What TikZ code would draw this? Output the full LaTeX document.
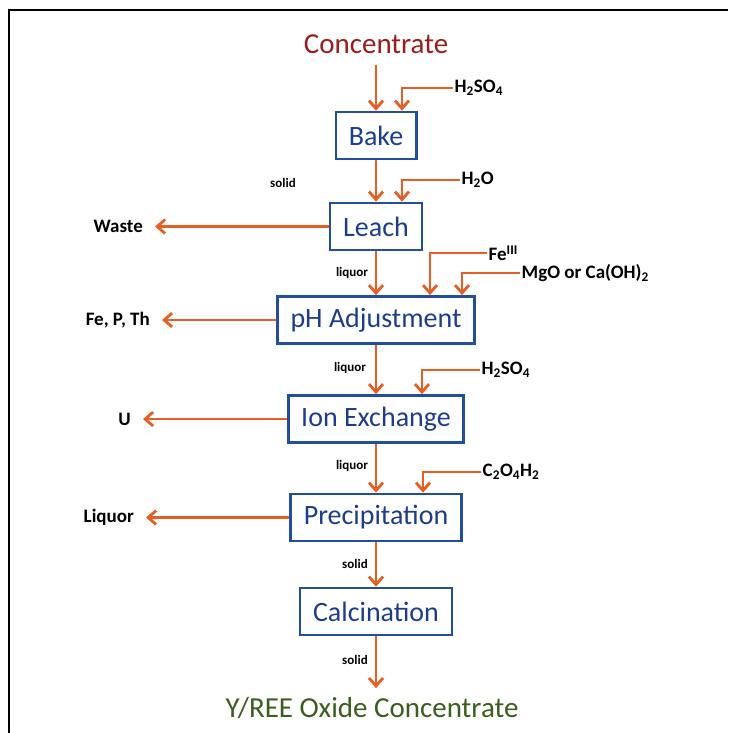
\documentclass[tikz,border=0pt]{standalone}
\usepackage{fontspec}
\setmainfont{Carlito}
\usetikzlibrary{arrows.meta}
\definecolor{flowor}{RGB}{232,94,34}
\definecolor{boxblue}{RGB}{34,78,160}
\definecolor{unittext}{RGB}{30,60,140}
\definecolor{feedred}{RGB}{155,28,28}
\definecolor{prodgreen}{RGB}{58,94,30}
\tikzset{
  flow/.style={draw=flowor, line width=2.8pt, -{Straight Barb[length=8pt,width=14pt]}},
  unit/.style={draw=boxblue, line width=2.6pt, text=unittext, inner xsep=13pt, minimum height=47pt, font=\fontsize{28}{30}\selectfont},
  feed/.style={anchor=west, inner sep=1.5pt, font=\bfseries\fontsize{19}{20}\selectfont},
  outlbl/.style={anchor=east, inner xsep=12pt, inner ysep=0pt, font=\bfseries\fontsize{19}{20}\selectfont},
  stream/.style={font=\bfseries\fontsize{13}{14}\selectfont},
}
\begin{document}
\begin{tikzpicture}[x=1pt,y=-1pt]
\useasboundingbox (0,0) rectangle (728,733);
\draw [line width=2pt] (9,733) -- (9,10) -- (728,10);

% main units
\node (conc) at (376,44) [text=feedred, inner ysep=11pt, font=\fontsize{29}{31}\selectfont] {Concentrate};
\node (bake) at (376,135.5) [unit] {Bake};
\node (leach) at (376,226.5) [unit] {Leach};
\node (phadj) at (376,320) [unit] {pH Adjustment};
\node (ionex) at (376,419) [unit] {Ion Exchange};
\node (precip) at (376,517.5) [unit] {Precipitation};
\node (calc) at (376,611.5) [unit] {Calcination};
\node (prod) at (372,708) [text=prodgreen, inner ysep=9pt, font=\fontsize{29}{31}\selectfont] {Y/REE Oxide Concentrate};

% reagents
\node (acidA) at (453,88) [feed] {H\textsubscript{2}SO\textsubscript{4}};
\node (water) at (460,180) [feed] {H\textsubscript{2}O};
\node (ferric) at (487,253) [feed] {Fe\textsuperscript{III}};
\node (base) at (520,273) [feed] {MgO or Ca(OH)\textsubscript{2}};
\node (acidB) at (480,370) [feed] {H\textsubscript{2}SO\textsubscript{4}};
\node (oxal) at (481,472) [feed] {C\textsubscript{2}O\textsubscript{4}H\textsubscript{2}};

% outputs
\node (waste) at (155,226.5) [outlbl] {Waste};
\node (fepth) at (162,320) [outlbl] {Fe, P, Th};
\node (uran) at (143,419) [outlbl] {U};
\node (liqout) at (146,517.5) [outlbl] {Liquor};

% stream labels
\node at (283,183) [stream] {solid};
\node at (352,273) [stream] {liquor};
\node at (350,368) [stream] {liquor};
\node at (352,466) [stream] {liquor};
\node at (355,564) [stream] {solid};
\node at (355,660) [stream] {solid};

\draw [flow] (conc) -- (bake);
\draw [flow] (bake) -- (leach);
\draw [flow] (leach) -- (phadj);
\draw [flow] (phadj) -- (ionex);
\draw [flow] (ionex) -- (precip);
\draw [flow] (precip) -- (calc);
\draw [flow] (calc.south) -- (calc.south |- prod.north);

\draw [flow] (acidA.west) -| ([xshift=26pt]bake.north);
\draw [flow] (water.west) -| ([xshift=26pt]leach.north);
\draw [flow] (ferric.west) -| ([xshift=54pt]phadj.north);
\draw [flow] (base.west) -| ([xshift=86pt]phadj.north);
\draw [flow] (acidB.west) -| ([xshift=46pt]ionex.north);
\draw [flow] (oxal.west) -| ([xshift=47pt]precip.north);

\draw [flow] (leach) -- (waste);
\draw [flow] (phadj) -- (fepth);
\draw [flow] (ionex) -- (uran);
\draw [flow] (precip) -- (liqout);
\end{tikzpicture}
\end{document}
